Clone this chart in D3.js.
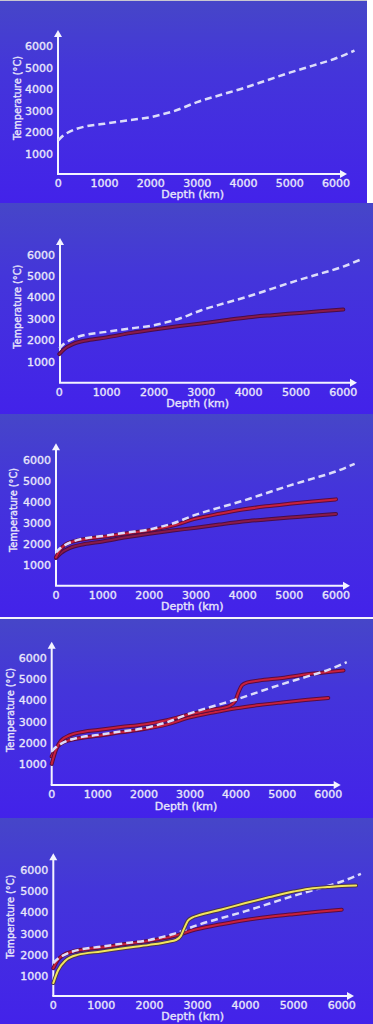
<!DOCTYPE html>
<html>
<head>
<meta charset="utf-8">
<script src="https://cdn.jsdelivr.net/npm/d3@7"></script>
<style>
  html, body { margin: 0; padding: 0; background: #fff; }
  svg { display: block; }
  text { font-family: "DejaVu Sans", Verdana, sans-serif; fill: #e8e6fb; stroke: #e8e6fb; stroke-width: 0.35px; }
</style>
</head>
<body>
<script>
var width = 373, height = 1024;

// ---- data ----
var depthTicks = [0, 1000, 2000, 3000, 4000, 5000, 6000];
var tempTicks = [1000, 2000, 3000, 4000, 5000, 6000];

// mantle adiabat (dashed)
var adiabatDepth = [0, 100, 200, 400, 600, 1000, 1500, 2000, 2250, 2500, 3000, 3500, 4000, 4500, 5000, 5500, 6000, 6400];
var adiabatTemp  = [1640, 1850, 1990, 2180, 2290, 2410, 2570, 2720, 2850, 3000, 3420, 3750, 4070, 4430, 4790, 5120, 5460, 5820];

// first geotherm (dark maroon)
var geoADepth = [0, 100, 300, 600, 1000, 1500, 2000, 2500, 3000, 3500, 4000, 4500, 5000, 5500, 6000];
var geoATemp  = [1370, 1600, 1850, 2020, 2150, 2350, 2520, 2670, 2800, 2950, 3090, 3190, 3280, 3370, 3450];

// second geotherm (red)
var geoBDepth = [0, 100, 200, 400, 700, 1000, 1500, 2000, 2500, 3000, 3500, 4000, 4500, 5000, 5500, 6000];
var geoBTemp  = [1400, 1800, 2000, 2170, 2290, 2370, 2530, 2680, 2900, 3230, 3460, 3660, 3810, 3930, 4040, 4140];

// third geotherm (red, jump near 4000 km)
var geoCDepth = [0, 100, 200, 400, 700, 1000, 1500, 2000, 2500, 3000, 3500, 3850, 3980, 4060, 4130, 4250, 4500, 5000, 5500, 6000, 6330];
var geoCTemp  = [1050, 1750, 2130, 2400, 2560, 2640, 2780, 2900, 3100, 3380, 3600, 3760, 4000, 4450, 4740, 4870, 4960, 5080, 5240, 5360, 5430];

// yellow geotherm (jump near 2700 km)
var geoDDepth = [0, 100, 250, 500, 1000, 1500, 2000, 2400, 2550, 2650, 2720, 2800, 2900, 3000, 3500, 4000, 4500, 5000, 5400, 5700, 6000, 6300];
var geoDTemp  = [700, 1300, 1750, 2020, 2180, 2340, 2490, 2640, 2720, 2900, 3250, 3620, 3780, 3860, 4150, 4450, 4730, 4990, 5150, 5200, 5250, 5270];

function pairs(d, t){ return d.map(function(v, i){ return [v, t[i]]; }); }
var series = {
  adiabat: pairs(adiabatDepth, adiabatTemp),
  geoA: pairs(geoADepth, geoATemp),
  geoB: pairs(geoBDepth, geoBTemp),
  geoC: pairs(geoCDepth, geoCTemp),
  geoD: pairs(geoDDepth, geoDTemp)
};

// panel layout (pixels)
var panels = [
  {top: 1,   bottom: 203,  right: 367, x0: 58.3, x6: 336,   y0: 175.5, y6: 46.7,  ax: 58,   ay: 174,   arrowTop: 30,    arrowRight: 347,   tickY: 183,   depth: [192.7, 194.5], title: [16.7, 98],   lines: []},
  {top: 203, bottom: 414,  right: 373, x0: 59.3, x6: 343.3, y0: 383.4, y6: 255,   ax: 60,   ay: 382.7, arrowTop: 238,   arrowRight: 357,   tickY: 392,   depth: [197.7, 403.5], title: [16.7, 306.7], lines: ["geoA"]},
  {top: 414, bottom: 617,  right: 373, x0: 56,   x6: 336,   y0: 587,   y6: 460,   ax: 56,   ay: 585.7, arrowTop: 443.3, arrowRight: 350,   tickY: 595,   depth: [192.3, 606.7], title: [13.3, 510],  lines: ["geoA", "geoB"]},
  {top: 619, bottom: 818,  right: 373, x0: 51.7, x6: 328.3, y0: 786.3, y6: 658.3, ax: 51.7, ay: 785,   arrowTop: 641.7, arrowRight: 340.7, tickY: 794,   depth: [186, 806.7],   title: [10, 710],    lines: ["geoB", "geoC"]},
  {top: 818, bottom: 1024, right: 373, x0: 53.3, x6: 341.7, y0: 998,   y6: 870,   ax: 53.3, ay: 996,   arrowTop: 853.3, arrowRight: 354,   tickY: 1005,  depth: [192.7, 1016.7], title: [10, 916.7], lines: ["geoB", "geoD"]}
];

var lineStyle = {
  geoA: {outer: "#4a0c46", inner: "#8a1a4a"},
  geoB: {outer: "#5a0c40", inner: "#c8203c"},
  geoC: {outer: "#5a0c40", inner: "#c8203c"},
  geoD: {outer: "#4a3550", inner: "#f2e65a"}
};

var svg = d3.select("body").append("svg")
  .attr("width", width)
  .attr("height", height);

var defs = svg.append("defs");
var grad = defs.append("linearGradient")
  .attr("id", "bg").attr("x1", 0).attr("y1", 0).attr("x2", 0).attr("y2", 1);
grad.append("stop").attr("offset", "0%").attr("stop-color", "#4646c8");
grad.append("stop").attr("offset", "35%").attr("stop-color", "#4435da");
grad.append("stop").attr("offset", "100%").attr("stop-color", "#4322ea");

// top grey rule
svg.append("rect").attr("x", 0).attr("y", 0).attr("width", width).attr("height", 1).style("fill", "#c8c8d0");

panels.forEach(function(p){
  var g = svg.append("g");
  g.append("rect")
    .attr("x", 0).attr("y", p.top)
    .attr("width", p.right).attr("height", p.bottom - p.top)
    .style("fill", "url(#bg)");

  var x = d3.scaleLinear().domain([0, 6000]).range([p.x0, p.x6]);
  var y = d3.scaleLinear().domain([0, 6000]).range([p.y0, p.y6]);

  // axes
  g.append("line").attr("x1", p.ax).attr("x2", p.ax).attr("y1", p.ay).attr("y2", p.arrowTop + 4)
    .style("stroke", "#f4f4ff").style("stroke-width", 2);
  g.append("line").attr("x1", p.ax - 1).attr("x2", p.arrowRight - 4).attr("y1", p.ay).attr("y2", p.ay)
    .style("stroke", "#f4f4ff").style("stroke-width", 2);
  g.append("path")
    .attr("d", "M" + p.ax + "," + p.arrowTop + "L" + (p.ax - 4) + "," + (p.arrowTop + 7) + "L" + (p.ax + 4) + "," + (p.arrowTop + 7) + "Z")
    .style("fill", "#f4f4ff");
  g.append("path")
    .attr("d", "M" + p.arrowRight + "," + p.ay + "L" + (p.arrowRight - 7) + "," + (p.ay - 4) + "L" + (p.arrowRight - 7) + "," + (p.ay + 4) + "Z")
    .style("fill", "#f4f4ff");

  // tick labels
  g.selectAll(".xt").data(depthTicks).enter().append("text")
    .attr("x", function(d){ return x(d); })
    .attr("y", p.tickY)
    .attr("text-anchor", "middle")
    .attr("dominant-baseline", "central")
    .style("font-size", "11px")
    .text(function(d){ return d; });
  g.selectAll(".yt").data(tempTicks).enter().append("text")
    .attr("x", p.ax - 5)
    .attr("y", function(d){ return y(d); })
    .attr("text-anchor", "end")
    .attr("dominant-baseline", "central")
    .style("font-size", "11px")
    .text(function(d){ return d; });

  g.append("text")
    .attr("x", p.depth[0]).attr("y", p.depth[1])
    .attr("text-anchor", "middle")
    .attr("dominant-baseline", "central")
    .style("font-size", "11px")
    .text("Depth (km)");
  g.append("text")
    .attr("transform", "translate(" + p.title[0] + "," + p.title[1] + ") rotate(-90)")
    .attr("text-anchor", "middle")
    .attr("dominant-baseline", "central")
    .style("font-size", "10.5px")
    .attr("textLength", 84)
    .attr("lengthAdjust", "spacingAndGlyphs")
    .text("Temperature (°C)");

  var line = d3.line()
    .x(function(d){ return x(d[0]); })
    .y(function(d){ return y(d[1]); })
    .curve(d3.curveMonotoneX);

  var drawCurve = function(key){
    var s = lineStyle[key];
    g.append("path").attr("d", line(series[key]))
      .style("fill", "none").style("stroke", s.outer).style("stroke-width", 4)
      .style("stroke-linecap", "round");
    g.append("path").attr("d", line(series[key]))
      .style("fill", "none").style("stroke", s.inner).style("stroke-width", 2)
      .style("stroke-linecap", "round");
  };

  p.lines.filter(function(k){ return k != "geoD"; }).forEach(drawCurve);

  g.append("path").attr("d", line(series.adiabat))
    .style("fill", "none")
    .style("stroke", "#dcdcfa")
    .style("stroke-width", 2.5)
    .style("stroke-dasharray", "7,4");

  if (p.lines.indexOf("geoD") >= 0) drawCurve("geoD");
});

// white strip right of the first panel and rule between panels 3 and 4
svg.append("rect").attr("x", 367).attr("y", 0).attr("width", 6).attr("height", 203).style("fill", "#ffffff");
svg.append("rect").attr("x", 0).attr("y", 617).attr("width", width).attr("height", 2).style("fill", "#f4f4fa");
</script>
</body>
</html>
